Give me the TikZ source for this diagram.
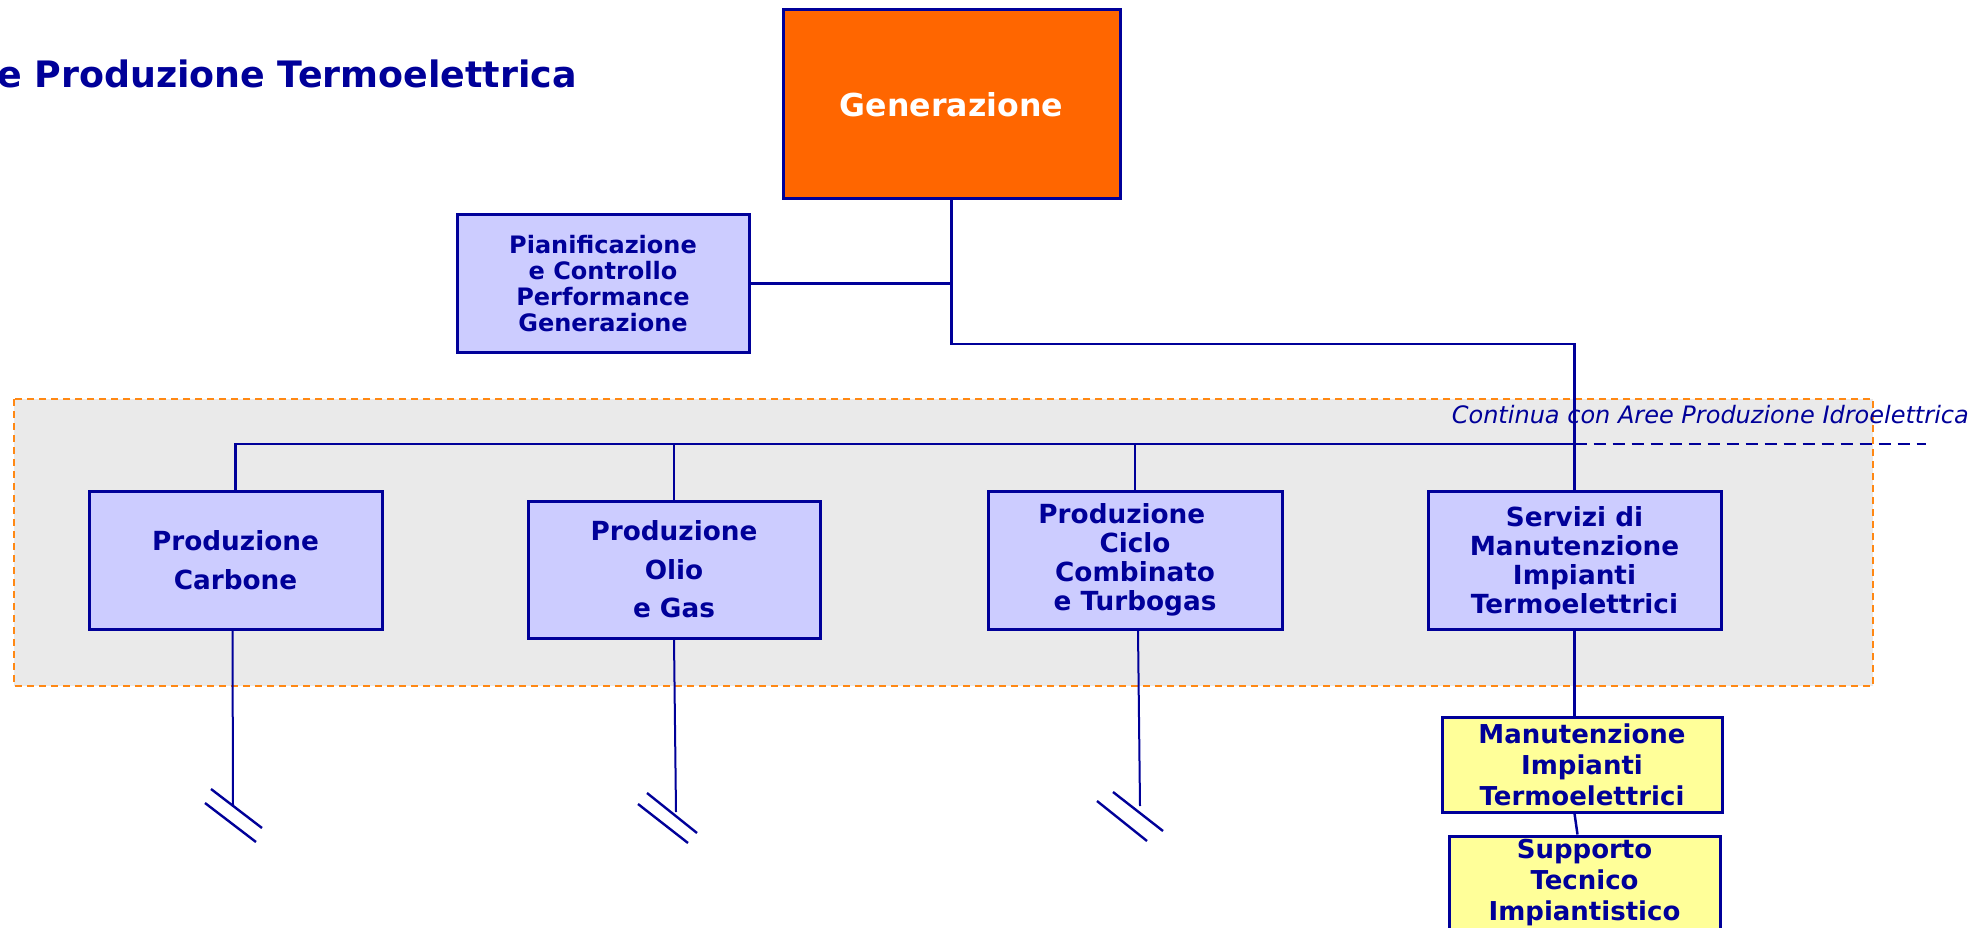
\documentclass[tikz,border=0pt]{standalone}
\usepackage{fontspec}
\setmainfont{DejaVu Sans}
\definecolor{navy}{RGB}{0,0,153}
\definecolor{boxblue}{RGB}{204,204,255}
\definecolor{genorange}{RGB}{255,102,0}
\definecolor{paleyellow}{RGB}{255,255,153}
\definecolor{areagrey}{RGB}{234,234,234}
\definecolor{areaorange}{RGB}{255,136,20}
\begin{document}
\begin{tikzpicture}[x=1pt,y=-1pt,
  unitbox/.style={draw=navy, line width=3pt, fill=boxblue, text=navy, align=center, inner sep=0pt},
  genbox/.style={unitbox, fill=genorange, text=white, font=\fontsize{31.6}{36}\selectfont\bfseries},
  planbox/.style={unitbox, font=\fontsize{24}{26}\selectfont\bfseries},
  wideline/.style={unitbox, font=\fontsize{26.3}{38.6}\selectfont\bfseries},
  tightline/.style={unitbox, font=\fontsize{26.3}{29}\selectfont\bfseries},
  yellowbox/.style={unitbox, fill=paleyellow, font=\fontsize{26}{31}\selectfont\bfseries},
  conn/.style={draw=navy, line width=2.5pt},
  downline/.style={draw=navy, line width=2pt},
  breakmark/.style={draw=navy, line width=2.4pt},
  areabox/.style={fill=areagrey, draw=areaorange, line width=2.5pt, dash pattern=on 7pt off 5pt}
]
\clip (0,0) rectangle (1984,928);
\fill[white] (0,0) rectangle (1984,928);

% grey area
\draw[areabox] (14,399) rectangle (1873,686);

% texts
\node[anchor=base east, text=navy, inner sep=0pt, font=\fontsize{36.4}{40}\selectfont\bfseries] (title) at (577,88) {e Produzione Termoelettrica};
\node[anchor=base east, text=navy, inner sep=0pt, font=\fontsize{24}{28}\selectfont\itshape] (cont) at (1969,423) {Continua con Aree Produzione Idroelettrica};

% boxes
\node[genbox, minimum width=337pt, minimum height=189pt] (gen) at (951.5,104.5) {Generazione};
\node[planbox, minimum width=292pt, minimum height=137pt] (pian) at (603,283.5) {Pianificazione\\e Controllo\\Performance\hspace*{.35em}\\Generazione};
\node[wideline, minimum width=293pt, minimum height=138pt] (carb) at (235.5,560) {Produzione\\Carbone};
\node[wideline, minimum width=292pt, minimum height=137pt] (olio) at (674,569.5) {Produzione\\Olio\\e Gas};
\node[tightline, minimum width=294pt, minimum height=138pt] (ciclo) at (1135,560) {Produzione\hspace*{1em}\\Ciclo\\Combinato\\e Turbogas};
\node[tightline, minimum width=293pt, minimum height=138pt] (serv) at (1574.5,560) {Servizi di\\Manutenzione\\Impianti\\Termoelettrici};
\node[yellowbox, minimum width=280pt, minimum height=95pt] (man) at (1582,764.5) {Manutenzione\\Impianti\\Termoelettrici};
\node[yellowbox, minimum width=271pt, minimum height=94pt] (sup) at (1584.5,883) {Supporto\\Tecnico\\Impiantistico};

% connectors
\coordinate (bend) at (951.5,344);
\coordinate (busend) at (1574.5,444);
\coordinate (contend) at (1926,444);
\draw[conn] (gen.south) -- (bend) -| (serv.north);
\draw[conn] (pian.east) -- (pian.east -| gen.south);
\draw[conn] (carb.north) |- (busend);
\draw[conn] (olio.north) -- (olio.north |- busend);
\draw[conn] (ciclo.north) -- (ciclo.north |- busend);
\draw[conn, dash pattern=on 12pt off 7pt] (busend) -- (contend);
\draw[conn] (serv.south) -- (serv.south |- man.north);
\draw[conn] (man.south -| serv.south) -- ([xshift=3pt]sup.north -| serv.south);

% lines down to breaks
\coordinate (carbend) at (233,805);
\coordinate (olioend) at (676,812);
\coordinate (cicloend) at (1140,806);
\draw[downline] ([xshift=-3pt]carb.south) -- (carbend);
\draw[downline] (olio.south) -- (olioend);
\draw[downline] ([xshift=3pt]ciclo.south) -- (cicloend);

% break marks
\draw[breakmark] (211,789) -- (262,828);
\draw[breakmark] (205,803) -- (256,842);
\draw[breakmark] (647,793) -- (697,833);
\draw[breakmark] (638,804) -- (688,843);
\draw[breakmark] (1113,792) -- (1163,831);
\draw[breakmark] (1097,801) -- (1147,841);
\end{tikzpicture}
\end{document}
